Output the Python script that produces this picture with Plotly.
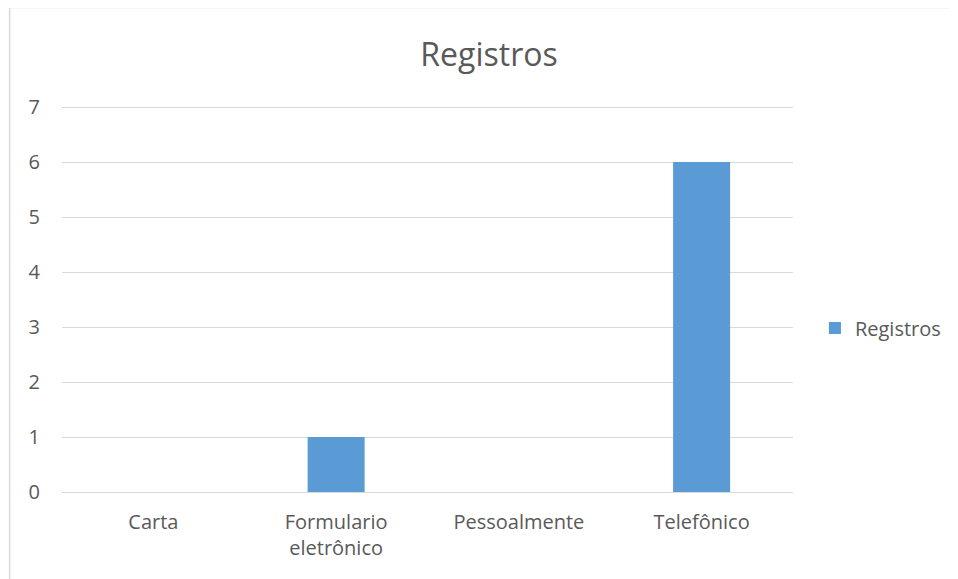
import plotly.graph_objects as go

categories = ["Carta", "Formulario<br>eletrônico", "Pessoalmente", "Telefônico"]
values = [0, 1, 0, 6]
series_name = "Registros"
title_text = "Registros"
y_ticks = [0, 1, 2, 3, 4, 5, 6, 7]

# page body adds an 8px offset, so the figure is laid out in shifted coordinates
OFF = 8
W, H = 950, 571
ml, mr, mt, mb = 54, 163, 98, 87
pw = W - ml - mr
ph = H - mt - mb
ymax = 7.02

text_color = "#595959"
font_family = "Open Sans, Liberation Sans, sans-serif"

fig = go.Figure()
fig.add_trace(go.Bar(
    x=categories, y=values, name=series_name,
    marker=dict(color="#5B9BD5", line=dict(width=0)),
    showlegend=True,
))

fig.update_layout(
    width=W, height=H,
    margin=dict(l=ml, r=mr, t=mt, b=mb, pad=0),
    paper_bgcolor="white", plot_bgcolor="white",
    font=dict(family=font_family, color=text_color, size=20),
    title=dict(text=title_text, x=(489 - OFF) / W, xref="container", xanchor="center",
               y=1 - (55 - OFF) / H, yref="container", yanchor="middle",
               font=dict(size=32, color=text_color, family=font_family)),
    bargap=0.688,
    showlegend=True,
    legend=dict(x=(817 - OFF - ml) / pw, xanchor="left",
                y=(H - mb - (328 - OFF)) / ph, yanchor="middle",
                font=dict(size=20, color=text_color), itemwidth=30,
                bgcolor="rgba(0,0,0,0)"),
    xaxis=dict(showgrid=False, showline=False, zeroline=False, ticks="",
               tickfont=dict(size=20, color=text_color), ticklabelstandoff=16),
    yaxis=dict(range=[0, ymax], tickvals=y_ticks, showgrid=True, gridcolor="#D9D9D9",
               gridwidth=1, zeroline=True, zerolinecolor="#D9D9D9", zerolinewidth=1,
               showline=False, ticks="", tickfont=dict(size=20, color=text_color),
               ticklabelstandoff=21),
    shapes=[dict(type="rect", xref="paper", yref="paper",
                 x0=(9.5 - OFF - ml) / pw, x1=(975 - ml) / pw,
                 y0=(H - mb - 600) / ph, y1=(H - mb - (7.5 - OFF)) / ph,
                 line=dict(color="#D9D9D9", width=1.5), fillcolor="rgba(0,0,0,0)",
                 layer="below")],
)

fig.write_html("out.html")
